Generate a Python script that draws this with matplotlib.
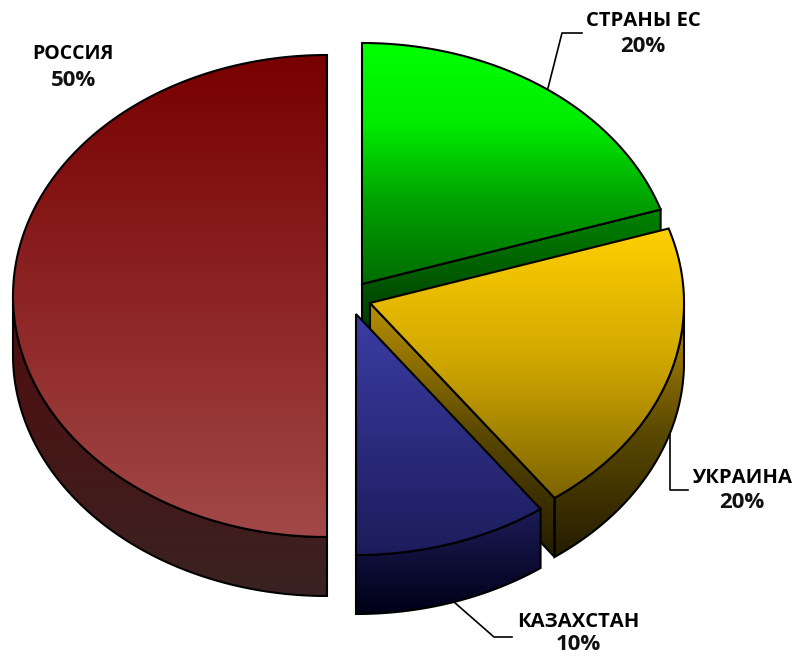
import matplotlib
matplotlib.use('Agg')
import matplotlib.pyplot as plt
import numpy as np
from matplotlib.colors import LinearSegmentedColormap
from matplotlib.patches import PathPatch, Polygon
from matplotlib.path import Path

labels = ['СТРАНЫ ЕС', 'УКРАИНА', 'КАЗАХСТАН', 'РОССИЯ']
values = [20, 20, 10, 50]

# pie layout (pixels)
centers = [(362, 284), (370, 303), (356, 314), (327, 296)]
rx, ry, depth = 314, 241, 59

top_colors = [('#00ff00', '#00ec00', '#00a000', '#006c00'), ('#ffd000', '#cfa600', '#7c6400'),
              ('#3c3ca4', '#1c1c5c'), ('#780000', '#a24848')]
side_colors = [('#008400', '#003000'), ('#b89000', '#5c4a00', '#241c00'),
               ('#1c1c58', '#000018'), ('#520c0c', '#3a2222')]

label_pos = [(643, 21, 47), (742, 478, 503), (578, 622, 645), (73, 54, 80)]
leaders = [[(548, 88), (562, 33), (582, 33)],
           [(670, 435), (670, 490), (688, 490)],
           [(454, 602), (494, 637), (512, 637)],
           None]
name_size = [14.6, 14.6, 14.6, 14]


def rim(c, t):
    t = np.radians(t)
    return np.column_stack([c[0] + rx * np.sin(t), c[1] - ry * np.cos(t)])


def shaded(ax, pts, cols, z):
    # vertical gradient clipped to the polygon
    y0, y1 = pts[:, 1].min(), pts[:, 1].max()
    x0, x1 = pts[:, 0].min(), pts[:, 0].max()
    cmap = LinearSegmentedColormap.from_list('g', cols)
    im = ax.imshow(np.linspace(0, 1, 256).reshape(-1, 1), cmap=cmap, aspect='auto',
                   extent=(x0, x1, y1, y0), zorder=z, interpolation='bilinear')
    clip = PathPatch(Path(np.vstack([pts, pts[:1]])), transform=ax.transData)
    im.set_clip_path(clip)
    ax.add_patch(Polygon(pts, closed=True, fill=False, ec='black', lw=1.5, zorder=z + 0.5))


fig = plt.figure(figsize=(7.96, 6.58), dpi=100)
ax = fig.add_axes([0, 0, 1, 1])
ax.set_xlim(0, 796)
ax.set_ylim(658, 0)
ax.axis('off')

starts = np.cumsum([0] + values[:-1]) * 3.6
ends = np.cumsum(values) * 3.6
# russia first, kazakhstan last
order = [3, 0, 1, 2]
for k, i in enumerate(order):
    c = np.array(centers[i], float)
    t0, t1 = starts[i], ends[i]
    z = 10 * (k + 1)
    drop = np.array([0, depth])

    side_pts = []
    if np.sin(np.radians(t1)) > 1e-6:
        # cut face towards the viewer
        p = rim(c, [t1])[0]
        side_pts.append(np.array([c, p, p + drop, c + drop]))
    a, b = max(t0, 90), min(t1, 270)
    if b > a:
        arc = rim(c, np.linspace(a, b, 120))
        side_pts.append(np.vstack([arc, (arc + drop)[::-1]]))
    if side_pts:
        all_pts = np.vstack(side_pts)
        lo, hi = all_pts[:, 1].min(), all_pts[:, 1].max()
        cmap = LinearSegmentedColormap.from_list('s', side_colors[i])
        for pts in side_pts:
            f0 = (pts[:, 1].min() - lo) / (hi - lo)
            f1 = (pts[:, 1].max() - lo) / (hi - lo)
            mid = (f0 + f1) / 2
            shaded(ax, pts, [cmap(f0), cmap(mid), cmap(f1)], z)

    arc = rim(c, np.linspace(t0, t1, 240))
    shaded(ax, np.vstack([c, arc]), top_colors[i], z + 2)

ax.set_xlim(0, 796)
ax.set_ylim(658, 0)

for name, val, pos, lead, size in zip(labels, values, label_pos, leaders, name_size):
    x, y1, y2 = pos
    ax.text(x, y1, name, ha='center', va='center', family='Open Sans', weight='bold',
            fontsize=size, color='black', zorder=100)
    ax.text(x, y2, f'{val}%', ha='center', va='center', family='Open Sans', weight='bold',
            fontsize=16, color='#111111', zorder=100)
    if lead:
        xs, ys = zip(*lead)
        ax.plot(xs, ys, color='black', lw=1.2, zorder=5)

fig.savefig('out.png', dpi=100, facecolor='white')
